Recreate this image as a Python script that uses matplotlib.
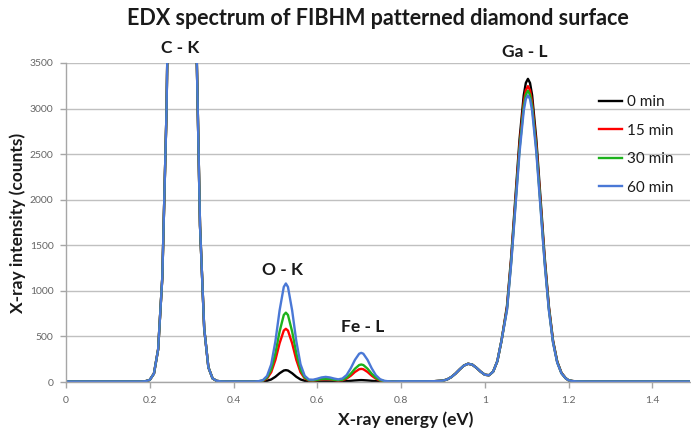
import matplotlib
matplotlib.use("Agg")
import matplotlib.pyplot as plt

# ---------------- data ----------------
energy_low = [0.00, 0.05, 0.10, 0.15, 0.18, 0.19, 0.20, 0.21, 0.22, 0.23, 0.24,
              0.25, 0.26, 0.27, 0.28, 0.29, 0.30, 0.31, 0.32, 0.33, 0.34, 0.35,
              0.36, 0.37, 0.38, 0.40, 0.42, 0.44, 0.45]
counts_low = [6, 6, 6, 6, 6, 9, 23, 92, 358, 1151, 2966,
              6106, 10056, 13206, 13816, 11516, 7656, 4066, 1716, 586, 161, 39,
              12, 7, 6, 6, 6, 6, 6]

energy_mid = [0.46, 0.47, 0.48, 0.49, 0.50, 0.51, 0.52, 0.525, 0.53, 0.54, 0.55,
              0.56, 0.57, 0.58, 0.59, 0.60, 0.61, 0.62, 0.63, 0.64, 0.65, 0.66,
              0.67, 0.68, 0.69, 0.70, 0.705, 0.71, 0.72, 0.73, 0.74, 0.75, 0.76,
              0.77, 0.78]
mid_0min = [6, 8, 13, 28, 57, 96, 126, 130, 126, 96, 57,
            28, 13, 8, 6, 6, 6, 6, 6, 6, 6, 7,
            9, 13, 17, 20, 21, 20, 17, 13, 9, 7, 6,
            6, 6]
mid_15min = [7, 14, 38, 107, 242, 425, 564, 584, 564, 425, 242,
             107, 39, 17, 15, 21, 28, 31, 28, 22, 17, 20,
             37, 69, 110, 140, 144, 140, 110, 69, 36, 17, 9,
             7, 6]
mid_30min = [8, 16, 48, 137, 315, 553, 735, 761, 735, 553, 315,
             137, 49, 20, 18, 24, 32, 36, 32, 25, 20, 25,
             47, 91, 146, 186, 192, 186, 146, 91, 46, 21, 10,
             7, 6]
mid_60min = [9, 20, 66, 193, 446, 785, 1043, 1081, 1043, 785, 446,
             194, 68, 27, 25, 36, 50, 56, 50, 38, 29, 38,
             76, 151, 243, 310, 320, 310, 243, 150, 74, 31, 13,
             8, 6]

energy_bump = [0.80, 0.82, 0.84, 0.86, 0.88, 0.90, 0.91, 0.92, 0.93, 0.94, 0.95,
               0.96, 0.97, 0.98, 0.99, 1.00, 1.01, 1.02, 1.03, 1.04]
counts_bump = [8, 8, 8, 8, 9, 15, 28, 54, 92, 138, 180,
               200, 191, 156, 114, 80, 74, 114, 229, 456]

energy_ga = [1.053, 1.063, 1.073, 1.083, 1.093, 1.098, 1.103, 1.108, 1.113, 1.123,
             1.133, 1.143, 1.153, 1.163, 1.173, 1.183, 1.193]
ga_0min = [835, 1371, 2021, 2665, 3147, 3281, 3326, 3281, 3147, 2665, 2021,
           1371, 833, 454, 224, 101, 43]
ga_15min = [813, 1338, 1973, 2601, 3071, 3202, 3246, 3202, 3071, 2601, 1973,
            1338, 813, 443, 219, 99, 42]
ga_30min = [800, 1317, 1942, 2561, 3024, 3153, 3196, 3153, 3024, 2561, 1942,
            1317, 800, 437, 216, 97, 41]
ga_60min = [788, 1297, 1912, 2521, 2976, 3104, 3146, 3104, 2976, 2521, 1912,
            1297, 788, 430, 212, 96, 41]

energy_tail = [1.20, 1.21, 1.22, 1.24, 1.26, 1.30, 1.35, 1.40, 1.45, 1.50]
counts_tail = [19, 10, 7, 6, 6, 6, 6, 6, 6, 6]

series_labels = ["0 min", "15 min", "30 min", "60 min"]
series_colors = ["#000000", "#FF0000", "#1DB21D", "#4A78D6"]

energy = energy_low + energy_mid + energy_bump + energy_ga + energy_tail
series = [
    counts_low + mid_0min + counts_bump + ga_0min + counts_tail,
    counts_low + mid_15min + counts_bump + ga_15min + counts_tail,
    counts_low + mid_30min + counts_bump + ga_30min + counts_tail,
    counts_low + mid_60min + counts_bump + ga_60min + counts_tail,
]

x_ticks = [0, 0.2, 0.4, 0.6, 0.8, 1.0, 1.2, 1.4]
x_tick_labels = ["0", "0.2", "0.4", "0.6", "0.8", "1", "1.2", "1.4"]
y_ticks = [0, 500, 1000, 1500, 2000, 2500, 3000, 3500]

peak_labels = ["C - K", "O - K", "Fe - L", "Ga - L"]
peak_label_x = [0.272, 0.518, 0.709, 1.095]
peak_label_y = [3660, 1230, 600, 3620]

# ---------------- drawing ----------------
plt.rcParams["font.family"] = ["Lato", "DejaVu Sans"]

fig = plt.figure(figsize=(6.91, 4.32), dpi=100)
ax = fig.add_axes([66 / 691, 50 / 432, 624 / 691, 319 / 432])

for ys, lab, col in zip(series, series_labels, series_colors):
    ax.plot(energy, ys, color=col, lw=1.7, label=lab, solid_joinstyle="round")

ax.set_xlim(0, 1.49)
ax.set_ylim(0, 3500)
ax.set_xticks(x_ticks)
ax.set_xticklabels(x_tick_labels)
ax.set_yticks(y_ticks)

ax.yaxis.grid(True, color="#C0C0C0", lw=1.0)
ax.set_axisbelow(True)
for s in ["top", "right"]:
    ax.spines[s].set_visible(False)
for s in ["left", "bottom"]:
    ax.spines[s].set_color("#A6A6A6")
    ax.spines[s].set_linewidth(1.0)
ax.tick_params(axis="both", colors="#A6A6A6", labelcolor="#666666",
               labelsize=7.5, length=4, width=1.0)
ax.tick_params(axis="x", pad=6)
ax.tick_params(axis="y", pad=5)

ax.set_xlabel("X-ray energy (eV)", fontsize=12.5, fontweight="bold",
              color="#1a1a1a")
ax.xaxis.set_label_coords((406 - 66) / 624, -(411 - 382) / 319)
ax.set_ylabel("X-ray intensity (counts)", fontsize=12.5, fontweight="bold",
              color="#1a1a1a")
ax.yaxis.set_label_coords(-(66 - 26) / 624, 0.5)

fig.text(0.547, 0.957, "EDX spectrum of FIBHM patterned diamond surface",
         ha="center", va="center", fontsize=15.5, fontweight="bold",
         color="#1a1a1a")

for txt, px, py in zip(peak_labels, peak_label_x, peak_label_y):
    ax.text(px, py, txt, ha="center", va="center", fontsize=12.5,
            fontweight="bold", color="#1a1a1a", clip_on=False)

leg = ax.legend(loc="upper left", bbox_to_anchor=(0.845, 0.918), frameon=False,
                fontsize=11, handlelength=1.5, handletextpad=0.3,
                labelspacing=0.95, borderaxespad=0)
for t in leg.get_texts():
    t.set_color("#1a1a1a")

fig.savefig("out.png", dpi=100)
